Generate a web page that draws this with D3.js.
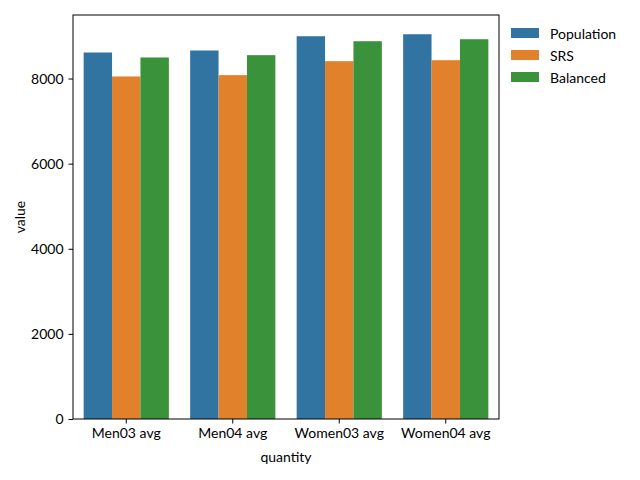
<!DOCTYPE html>
<html>
<head>
<meta charset="utf-8">
<script src="https://cdn.jsdelivr.net/npm/d3@7"></script>
<style>
  body { margin: 0; background: #fff; }
  svg text { font-family: Lato, "Open Sans", sans-serif; fill: #000; }
</style>
</head>
<body>
<svg id="chart" width="640" height="480"></svg>
<script>
const quantities = ['Men03 avg', 'Men04 avg', 'Women03 avg', 'Women04 avg'];
const series = ['Population', 'SRS', 'Balanced'];
const population = [8612, 8659, 8994, 9041];
const srs = [8049, 8080, 8408, 8431];
const balanced = [8495, 8549, 8877, 8924];
const yTicks = [0, 2000, 4000, 6000, 8000];
const colors = ['#3274a1', '#e1812c', '#3a923a'];

const seriesValues = [population, srs, balanced];
const rows = [];
quantities.forEach((q, i) => {
    series.forEach((s, j) => rows.push({ quantity: q, series: s, value: seriesValues[j][i] }));
});

const svg = d3.select('#chart');
const plotLeft = 73, plotRight = 499, plotTop = 15, plotBottom = 419;
const fontSize = '14px';

const x = d3.scaleBand().domain(quantities).range([plotLeft, plotRight]).paddingInner(0).paddingOuter(0);
const xInner = d3.scaleBand().domain(series)
    .range([0.1 * x.bandwidth(), 0.9 * x.bandwidth()]);
const maxVal = d3.max(rows, d => d.value);
const y = d3.scaleLinear().domain([0, maxVal * 1.05]).range([plotBottom, plotTop]);
const color = d3.scaleOrdinal().domain(series).range(colors);

// bars
svg.append('g').selectAll('rect')
    .data(rows)
    .join('rect')
    .attr('x', d => x(d.quantity) + xInner(d.series))
    .attr('y', d => y(d.value))
    .attr('width', xInner.bandwidth())
    .attr('height', d => y(0) - y(d.value))
    .attr('fill', d => color(d.series));

// axes
const xAxis = svg.append('g')
    .attr('transform', `translate(0,${plotBottom})`)
    .call(d3.axisBottom(x).tickSizeOuter(0).tickSize(4.5).tickPadding(5));
const yAxis = svg.append('g')
    .attr('transform', `translate(${plotLeft},0)`)
    .call(d3.axisLeft(y).tickValues(yTicks).tickFormat(d3.format('d')).tickSizeOuter(0).tickSize(4.5).tickPadding(5));
[xAxis, yAxis].forEach(g => {
    g.selectAll('text').style('font-size', fontSize);
    g.select('.domain').remove();
    g.selectAll('line').attr('stroke', '#000').attr('stroke-width', 1);
});

// frame
svg.append('rect')
    .attr('x', plotLeft).attr('y', plotTop)
    .attr('width', plotRight - plotLeft).attr('height', plotBottom - plotTop)
    .attr('fill', 'none').attr('stroke', '#000').attr('stroke-width', 1);

// axis labels
svg.append('text')
    .attr('x', (plotLeft + plotRight) / 2).attr('y', 462)
    .attr('text-anchor', 'middle')
    .style('font-size', fontSize)
    .text('quantity');
svg.append('text')
    .attr('transform', `translate(25,${(plotTop + plotBottom) / 2}) rotate(-90)`)
    .attr('text-anchor', 'middle')
    .style('font-size', fontSize)
    .text('value');

// legend
const legend = svg.append('g').attr('transform', 'translate(511,28)');
series.forEach((s, i) => {
    const g = legend.append('g').attr('transform', `translate(0,${i * 22})`);
    g.append('rect').attr('width', 28).attr('height', 10).attr('fill', color(s));
    g.append('text').attr('x', 39).attr('y', 10.5).style('font-size', fontSize).text(s);
});
</script>
</body>
</html>
